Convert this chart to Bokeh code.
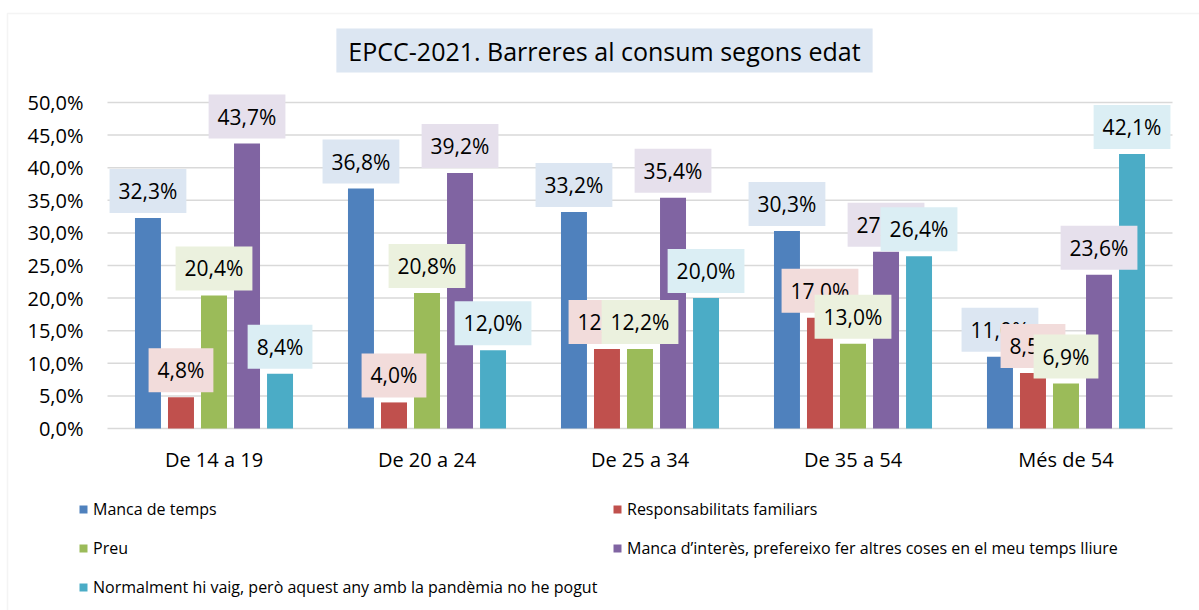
from bokeh.plotting import figure
from bokeh.models import (Range1d, FixedTicker, Legend, LegendItem, Label,
                          ColumnDataSource, BoxAnnotation)
from bokeh.transform import dodge
from bokeh.core.properties import value
from bokeh.embed import file_html
from bokeh.resources import INLINE

# ---------------- data ----------------
categories = ["De 14 a 19", "De 20 a 24", "De 25 a 34", "De 35 a 54", "Més de 54"]
series_names = [
    "Manca de temps",
    "Responsabilitats familiars",
    "Preu",
    "Manca d\u2019interès, prefereixo fer altres coses en el meu temps lliure",
    "Normalment hi vaig, però aquest any amb la pandèmia no he pogut",
]
manca_temps = [32.3, 36.8, 33.2, 30.3, 11.0]
responsabilitats = [4.8, 4.0, 12.2, 17.0, 8.5]
preu = [20.4, 20.8, 12.2, 13.0, 6.9]
manca_interes = [43.7, 39.2, 35.4, 27.1, 23.6]
pandemia = [8.4, 12.0, 20.0, 26.4, 42.1]
y_ticks = [0, 5, 10, 15, 20, 25, 30, 35, 40, 45, 50]
y_tick_labels = ["0,0%", "5,0%", "10,0%", "15,0%", "20,0%", "25,0%",
                 "30,0%", "35,0%", "40,0%", "45,0%", "50,0%"]
title_text = "EPCC-2021. Barreres al consum segons edat"

series_values = [manca_temps, responsabilitats, preu, manca_interes, pandemia]
bar_colors = ["#4F81BD", "#C0504D", "#9BBB59", "#8064A2", "#4BACC6"]
label_fills = ["#DCE6F2", "#F2DCDB", "#EBF1DE", "#E6E0EC", "#DBEEF4"]
offsets = [-0.31, -0.155, 0.0, 0.155, 0.31]
FONT = "Open Sans"
W, H = 1199, 610

# layout geometry (pixels): category band 107..1172, 0 % at y=428, 6.52 px per %
cat_px = 213.0
x0_px = 107.0
zero_px = 428.0
pct_px = 6.52
n = len(categories)
x_start = -(x0_px + cat_px / 2) / cat_px
y_start = -(H - zero_px) / pct_px

p = figure(width=W, height=H,
           x_range=Range1d(x_start, x_start + W / cat_px),
           y_range=Range1d(y_start, y_start + H / pct_px),
           output_backend="svg", toolbar_location=None,
           min_border_left=0, min_border_right=0, min_border_top=0, min_border_bottom=0)
p.outline_line_color = None
p.background_fill_color = "white"
p.border_fill_color = "white"
p.grid.visible = False

# y axis fixed at the left edge of the category band
p.yaxis.fixed_location = -0.5
p.yaxis.ticker = FixedTicker(ticks=y_ticks)
p.yaxis.major_label_overrides = {t: l for t, l in zip(y_ticks, y_tick_labels)}
p.yaxis.axis_line_color = None
p.yaxis.major_tick_line_color = None
p.yaxis.minor_tick_line_color = None
p.yaxis.major_tick_in = 0
p.yaxis.major_tick_out = 0
p.yaxis.major_label_standoff = 24
p.yaxis.major_label_text_font = FONT
p.yaxis.major_label_text_font_size = "20px"
p.yaxis.major_label_text_color = "#000000"

# x axis fixed at 0 %
cat_idx = list(range(n))
p.xaxis.fixed_location = 0
p.xaxis.ticker = FixedTicker(ticks=cat_idx)
p.xaxis.major_label_overrides = {i: c for i, c in zip(cat_idx, categories)}
p.xaxis.axis_line_color = None
p.xaxis.major_tick_line_color = None
p.xaxis.minor_tick_line_color = None
p.xaxis.major_tick_in = 0
p.xaxis.major_tick_out = 0
p.xaxis.major_label_standoff = 17
p.xaxis.major_label_text_font = FONT
p.xaxis.major_label_text_font_size = "20px"
p.xaxis.major_label_text_color = "#000000"

# horizontal gridlines across the category band only
p.segment(x0=-0.5, x1=n - 0.5, y0=y_ticks, y1=y_ticks, line_color="#D9D9D9", line_width=1.5)

sources = []
renderers = []
for name, vals, col, off in zip(series_names, series_values, bar_colors, offsets):
    src = ColumnDataSource(dict(idx=cat_idx, val=vals,
                                lab=[f"{v:.1f}".replace(".", ",") + "%" for v in vals]))
    sources.append(src)
    r = p.vbar(x=dodge("idx", off), top="val", width=0.122, source=src,
               fill_color=col, line_color=None)
    renderers.append(r)

for src, fill, off in zip(sources, label_fills, offsets):
    p.text(x=dodge("idx", off), y="val", text="lab", source=src,
           text_font=value(FONT), text_font_size="21px", text_color="#000000",
           text_align="center", text_baseline="middle", y_offset=-27,
           background_fill_color=fill, padding=(9, 8))

title = Label(x=604, y=H - 50, x_units="screen", y_units="screen", text=title_text,
              text_font=FONT, text_font_size="25px", text_color="#000000",
              text_align="center", text_baseline="middle",
              background_fill_color="#DCE6F2", padding=(12, 5))
p.add_layout(title)

# outer chart border (left and top edges visible)
p.add_layout(BoxAnnotation(left=7, right=W + 20, top=H - 13, bottom=-20,
                           left_units="screen", right_units="screen",
                           top_units="screen", bottom_units="screen",
                           fill_alpha=0, line_color="#D9D9D9", line_width=1.5))

common = dict(orientation="vertical", glyph_width=10, glyph_height=10, label_standoff=5,
              label_height=20, spacing=17, padding=0, margin=0,
              label_text_font=FONT, label_text_font_size="16px", label_text_color="#000000",
              background_fill_alpha=0, border_line_color=None)
left_idx = [0, 2, 4]
right_idx = [1, 3]
legend_left = Legend(items=[LegendItem(label=series_names[i], renderers=[renderers[i]]) for i in left_idx],
                     location=(78, 12), **common)
legend_right = Legend(items=[LegendItem(label=series_names[i], renderers=[renderers[i]]) for i in right_idx],
                      location=(612, 51), **common)
p.add_layout(legend_left, "center")
p.add_layout(legend_right, "center")

open("out.html", "w").write(file_html(p, INLINE))
